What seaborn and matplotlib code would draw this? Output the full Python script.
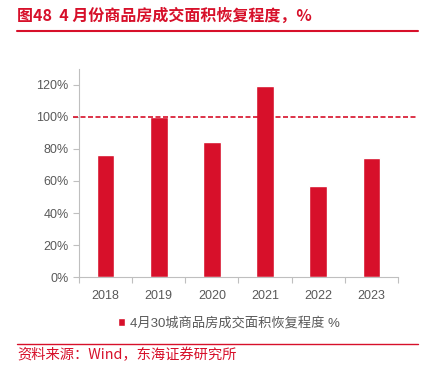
import pandas as pd
import matplotlib
matplotlib.use('Agg')
import matplotlib.pyplot as plt
import seaborn as sns
from matplotlib.ticker import PercentFormatter

# 数据
years = ['2018', '2019', '2020', '2021', '2022', '2023']
recovery = [0.762, 1.00, 0.843, 1.195, 0.568, 0.744]
series_name = '4月30城商品房成交面积恢复程度 %'

df = pd.DataFrame({'year': years, 'value': recovery})

sns.set_style('white')
plt.rcParams['font.family'] = ['Liberation Sans', 'Noto Sans CJK SC', 'DejaVu Sans']

red = '#D7102A'
gray = '#595959'

fig = plt.figure(figsize=(4.27, 3.68), dpi=100)
ax = fig.add_axes([0.185, 0.247, 0.747, 0.566])

sns.barplot(data=df, x='year', y='value', color=red, width=0.33,
            saturation=1, ax=ax, label=series_name)

ax.set_ylim(0, 1.3)
ax.set_yticks([0, 0.2, 0.4, 0.6, 0.8, 1.0, 1.2])
ax.yaxis.set_major_formatter(PercentFormatter(1.0, decimals=0))
ax.set_xlim(-0.5, len(years) - 0.5)
ax.set_xlabel('')
ax.set_ylabel('')

# 坐标轴样式
for s in ['top', 'right']:
    ax.spines[s].set_visible(False)
for s in ['left', 'bottom']:
    ax.spines[s].set_color('#BFBFBF')
    ax.spines[s].set_linewidth(0.8)
ax.tick_params(axis='both', colors='#BFBFBF', labelcolor=gray, labelsize=9,
               length=4, width=0.8, left=True, bottom=False)
ax.set_xticks([i - 0.5 for i in range(len(years) + 1)], minor=True)
ax.tick_params(axis='x', which='minor', length=4, color='#BFBFBF', width=0.8, bottom=True)
ax.tick_params(axis='x', pad=5)

# 100% 参考线
ax.plot([-0.02, 1.055], [1.0, 1.0], transform=ax.get_yaxis_transform(),
        color=red, linestyle=(0, (3, 1.5)), linewidth=1.2, clip_on=False)

# 图例
leg = ax.legend(loc='upper center', bbox_to_anchor=(0.47, -0.135), frameon=False,
                fontsize=9.5, handlelength=0.55, handleheight=0.55, handletextpad=0.35,
                labelcolor=gray)

# 标题与来源
fig.text(0.04, 0.957, '图48  4 月份商品房成交面积恢复程度，%', color=red,
         fontsize=11.5, fontweight='bold', va='center', ha='left',
         family=['Noto Sans CJK SC', 'DejaVu Sans'])
fig.add_artist(plt.Line2D([0.04, 0.98], [0.915, 0.915], color=red, linewidth=1.5))
fig.add_artist(plt.Line2D([0.04, 0.98], [0.065, 0.065], color=red, linewidth=1.0))
fig.text(0.04, 0.035, '资料来源：Wind，东海证券研究所', color=red,
         fontsize=10.3, va='center', ha='left',
         family=['Noto Sans CJK SC', 'DejaVu Sans'])

fig.savefig('out.png', dpi=100)
